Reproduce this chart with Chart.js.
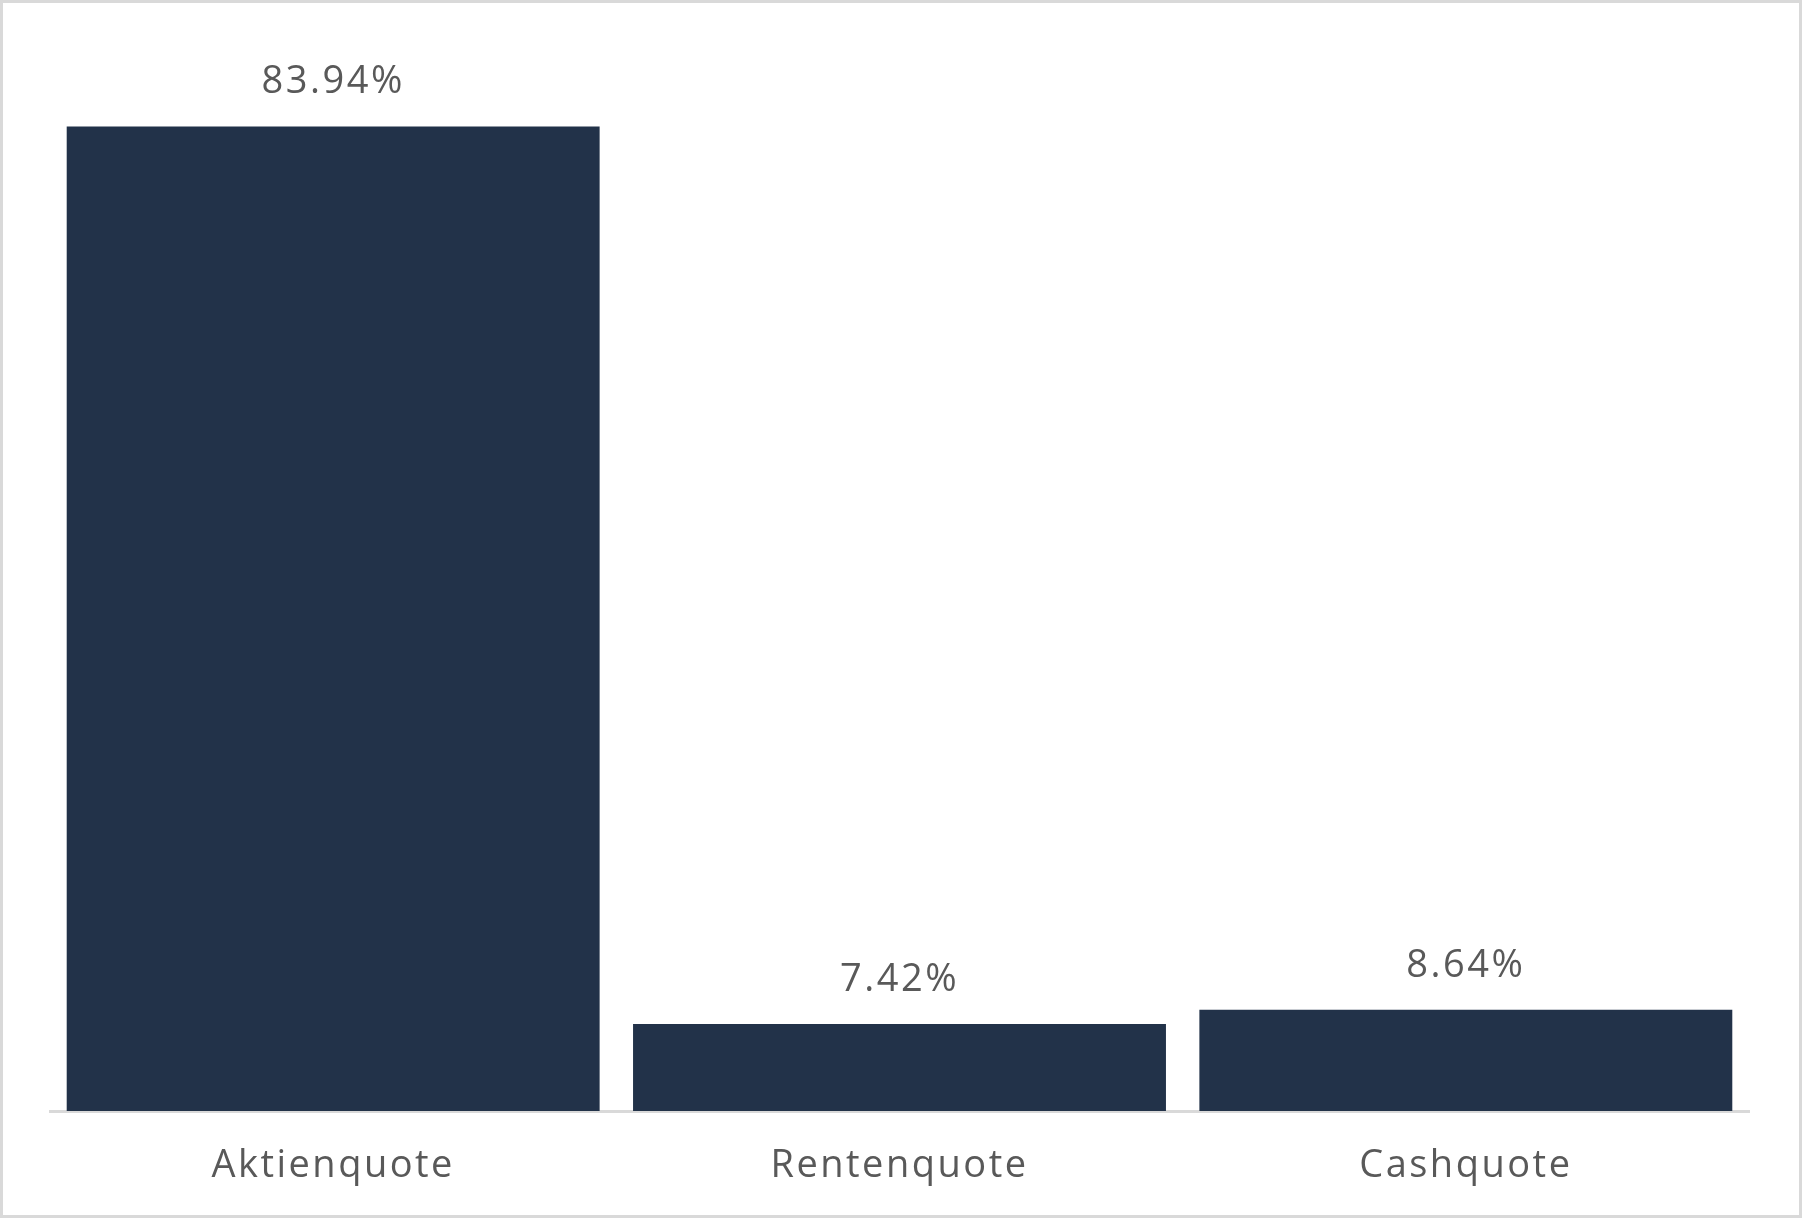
<!DOCTYPE html>
<html lang="de">
<head>
    <meta charset="UTF-8">
    <title>Quoten</title>
    <script src="https://cdn.jsdelivr.net/npm/chart.js"></script>
    <style>
        body {
            margin: 0;
            padding: 0;
            background-color: #ffffff;
        }
        .frame {
            width: 1802px;
            height: 1218px;
            box-sizing: border-box;
            border: 3px solid #d9d9d9;
            background: #ffffff;
        }
        canvas {
            display: block;
        }
    </style>
</head>
<body>
    <div class="frame">
        <canvas id="quoteChart" width="1796" height="1212"></canvas>
    </div>
    <script>
        const categories = ['Aktienquote', 'Rentenquote', 'Cashquote'];
        const quoteValues = [83.94, 7.42, 8.64];

        const barColor = '#223249';
        const textColor = '#595959';

        // wider letter spacing for all chart text
        const spacing = {
            id: 'spacing',
            beforeDraw(chart) {
                chart.ctx.letterSpacing = '2.5px';
            }
        };

        // draws the percentage above each bar
        const valueLabels = {
            id: 'valueLabels',
            afterDatasetsDraw(chart) {
                const ctx = chart.ctx;
                const meta = chart.getDatasetMeta(0);
                ctx.save();
                ctx.letterSpacing = '2.5px';
                ctx.font = '38px "Open Sans", sans-serif';
                ctx.fillStyle = textColor;
                ctx.textAlign = 'center';
                ctx.textBaseline = 'middle';
                meta.data.forEach((bar, i) => {
                    const v = chart.data.datasets[0].data[i];
                    ctx.fillText(v.toFixed(2) + '%', bar.x, bar.y - 44);
                });
                ctx.restore();
            }
        };

        const ctx = document.getElementById('quoteChart').getContext('2d');
        const quoteChart = new Chart(ctx, {
            type: 'bar',
            data: {
                labels: categories,
                datasets: [{
                    data: quoteValues,
                    backgroundColor: barColor,
                    borderWidth: 0,
                    barPercentage: 0.941,
                    categoryPercentage: 1.0
                }]
            },
            options: {
                responsive: false,
                devicePixelRatio: 1,
                animation: false,
                layout: {
                    padding: { left: 47, right: 50, top: 49, bottom: 1 }
                },
                plugins: {
                    legend: { display: false },
                    tooltip: { enabled: false }
                },
                scales: {
                    x: {
                        grid: { display: false },
                        border: { display: true, color: '#d9d9d9', width: 3 },
                        ticks: {
                            color: textColor,
                            padding: 28.5,
                            font: { family: '"Open Sans", sans-serif', size: 38, lineHeight: 1 }
                        }
                    },
                    y: {
                        display: false,
                        min: 0,
                        max: 90.3
                    }
                }
            },
            plugins: [spacing, valueLabels]
        });
    </script>
</body>
</html>
